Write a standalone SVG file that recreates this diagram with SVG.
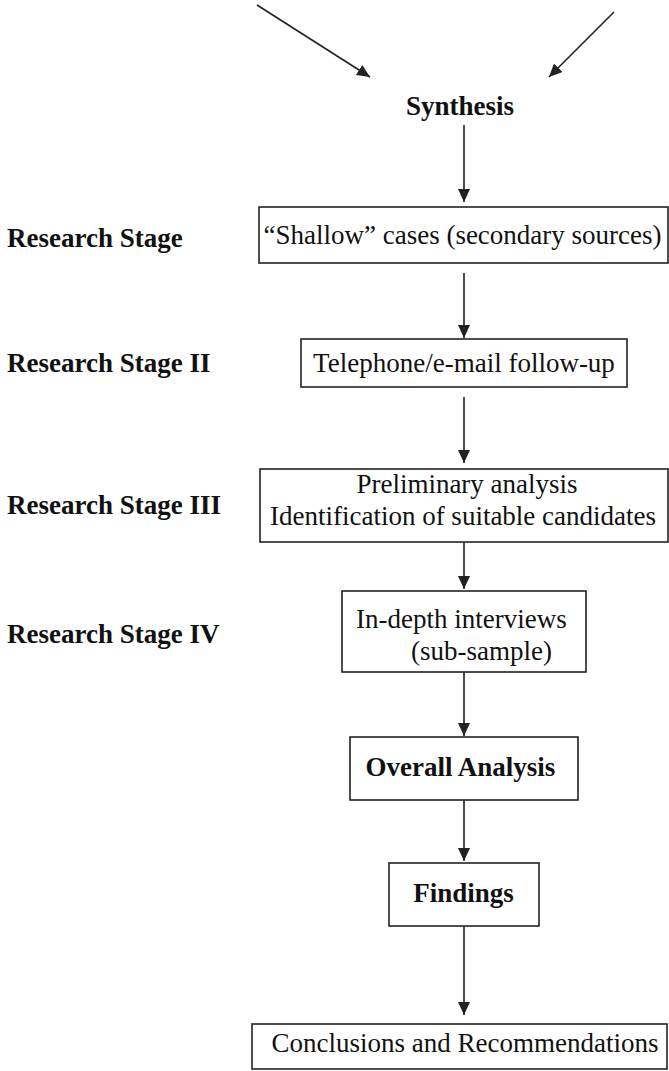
<svg xmlns="http://www.w3.org/2000/svg" width="669" height="1071" viewBox="0 0 669 1071">
<style>
.box{fill:#fff;stroke:#222;stroke-width:1.6}
.ln{stroke:#222;stroke-width:1.6;fill:none;marker-end:url(#ah)}
.t{font-family:"Liberation Serif","Times New Roman",serif;font-size:27px;fill:#111}
.b{font-weight:bold}
.m{text-anchor:middle}
</style>
<defs>
<marker id="ah" markerUnits="userSpaceOnUse" markerWidth="14" markerHeight="12" refX="13" refY="6" orient="auto">
<path d="M0,0 L13,6 L0,12 z" fill="#222"/>
</marker>
</defs>
<rect width="669" height="1071" fill="#fff"/>
<g id="connectors">
<line class="ln" x1="257" y1="5" x2="370" y2="77"/>
<line class="ln" x1="614" y1="12" x2="549" y2="77"/>
<line class="ln" x1="464" y1="125" x2="464" y2="202"/>
<line class="ln" x1="464" y1="273" x2="464" y2="338"/>
<line class="ln" x1="464" y1="397" x2="464" y2="463"/>
<line class="ln" x1="464" y1="542" x2="464" y2="589"/>
<line class="ln" x1="464" y1="672" x2="464" y2="736"/>
<line class="ln" x1="464" y1="800" x2="464" y2="861"/>
<line class="ln" x1="464" y1="926" x2="464" y2="1015"/>
</g>
<g id="labels">
<text class="t b" x="7" y="247">Research Stage</text>
<text class="t b" x="7" y="372">Research Stage II</text>
<text class="t b" x="7" y="514">Research Stage III</text>
<text class="t b" x="7" y="643">Research Stage IV</text>
</g>
<g id="synthesis">
<text class="t b m" x="460" y="115">Synthesis</text>
</g>
<g id="shallow">
<rect class="box" x="259" y="207" width="409" height="56"/>
<text class="t m" x="462.5" y="244">“Shallow” cases (secondary sources)</text>
</g>
<g id="telephone">
<rect class="box" x="301" y="339" width="326" height="48"/>
<text class="t m" x="464" y="372">Telephone/e-mail follow-up</text>
</g>
<g id="preliminary">
<rect class="box" x="260" y="469" width="408" height="73"/>
<text class="t m" x="467" y="493">Preliminary analysis</text>
<text class="t m" x="463" y="525">Identification of suitable candidates</text>
</g>
<g id="indepth">
<rect class="box" x="342" y="591" width="244" height="81"/>
<text class="t" x="356" y="628">In-depth interviews</text>
<text class="t" x="411" y="660">(sub-sample)</text>
</g>
<g id="overall">
<rect class="box" x="350" y="737" width="228" height="63"/>
<text class="t b m" x="460.5" y="776">Overall Analysis</text>
</g>
<g id="findings">
<rect class="box" x="389" y="863" width="150" height="63"/>
<text class="t b m" x="463.5" y="902">Findings</text>
</g>
<g id="conclusions">
<rect class="box" x="252" y="1024" width="415" height="45"/>
<text class="t m" x="465" y="1052">Conclusions and Recommendations</text>
</g>
</svg>
